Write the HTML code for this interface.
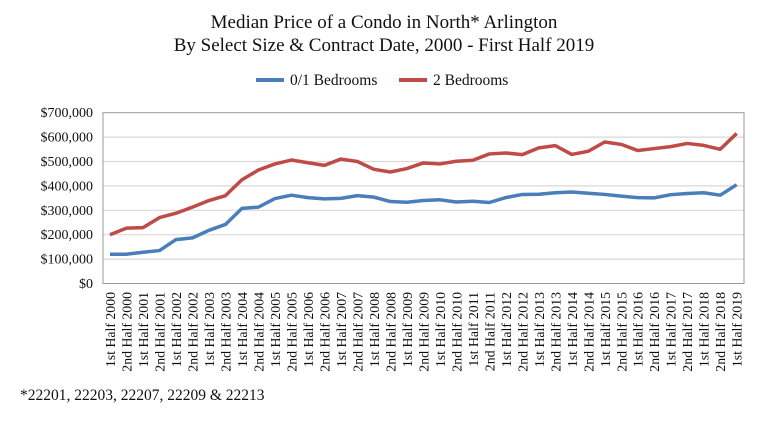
<!DOCTYPE html>
<html><head><meta charset="utf-8"><style>
body{margin:0;background:#fff;}
svg text{font-family:"Liberation Serif",serif;fill:#111;}
</style></head><body>
<svg width="768" height="424" id="c">
<text x="384" y="28" font-size="19" text-anchor="middle">Median Price of a Condo in North* Arlington</text>
<text x="384" y="51" font-size="19" text-anchor="middle">By Select Size &amp; Contract Date, 2000 - First Half 2019</text>
<g>
<line x1="256" y1="80" x2="284" y2="80" stroke="#4a7ebb" stroke-width="4"/>
<text x="290" y="85" font-size="15.5">0/1 Bedrooms</text>
<line x1="399" y1="80" x2="427" y2="80" stroke="#be4b48" stroke-width="4"/>
<text x="433" y="85" font-size="15.5">2 Bedrooms</text>
</g>
<g id="grid"></g><g id="ax"></g><g id="ser"></g>
<text x="20" y="400" font-size="15.5">*22201, 22203, 22207, 22209 &amp; 22213</text>
</svg>
<script>
const categories=[];
for(let y=2000;y<=2019;y++){categories.push('1st Half '+y);if(y<2019)categories.push('2nd Half '+y);}
const yTicks=[0,100000,200000,300000,400000,500000,600000,700000];
const yTickLabels=['$0','$100,000','$200,000','$300,000','$400,000','$500,000','$600,000','$700,000'];
const seriesOneBed=[120,120,128,135,180,187,218,242,308,313,348,362,352,347,349,360,354,336,333,340,343,334,337,332,352,365,366,372,375,370,365,358,352,351,364,369,372,362,405].map(v=>v*1000);
const seriesTwoBed=[200,227,229,270,288,313,340,360,425,465,490,506,495,484,510,500,468,457,471,494,490,501,505,531,535,528,556,565,529,542,580,570,545,553,561,574,566,550,615].map(v=>v*1000);
const NS='http://www.w3.org/2000/svg';
const L=103,R=744,T=112.7,B=283.5,x0=110,x1=736.7;
const yS=v=>B-(v/700000)*(B-T);
const xS=i=>x0+i*(x1-x0)/(categories.length-1);
function mk(t,a,p){const e=document.createElementNS(NS,t);for(const k in a)e.setAttribute(k,a[k]);p.appendChild(e);return e;}
const g=document.getElementById('grid'),ax=document.getElementById('ax'),s=document.getElementById('ser');
yTicks.forEach((v,i)=>{
 if(v>0&&v<700000){const l=mk('line',{x1:L,x2:R,y1:yS(v),y2:yS(v),stroke:'#d9d9d9','stroke-width':1.2},g);
 
 }
 const t=mk('text',{x:93,y:yS(v)+4.5,'font-size':14,'text-anchor':'end'},ax);t.textContent=yTickLabels[i];
 
 
});
const box=mk('rect',{x:L,y:T,width:R-L,height:B-T,fill:'none',stroke:'#999','stroke-width':1},ax);


categories.forEach((c,i)=>{
 const t=mk('text',{transform:`translate(${xS(i)+5},292) rotate(-90)`,'font-size':13.8,'text-anchor':'end'},ax);t.textContent=c;
 
 
});
[[seriesOneBed,'#4a7ebb','line-0-1-bedrooms'],[seriesTwoBed,'#be4b48','line-2-bedrooms']].forEach(([d,col,n])=>{
 const p=mk('polyline',{points:d.map((v,i)=>xS(i)+','+yS(v)).join(' '),fill:'none',stroke:col,'stroke-width':3.5,'stroke-linejoin':'round'},s);
 
 
});
</script>
</body></html>
